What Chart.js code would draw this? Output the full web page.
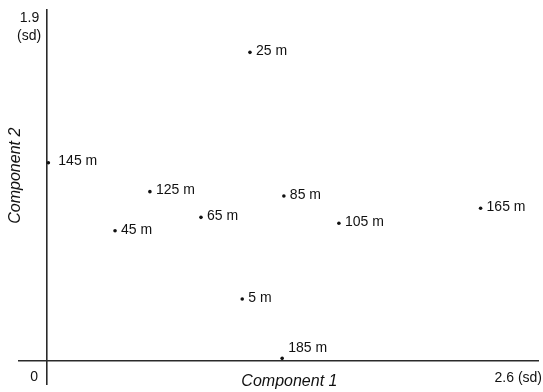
<!DOCTYPE html>
<html>
<head>
<meta charset="utf-8">
<script src="https://cdn.jsdelivr.net/npm/chart.js@4"></script>
<style>
  body { margin: 0; background: #fff; }
  #wrap { width: 543px; height: 392px; position: relative; }
</style>
</head>
<body>
<div id="wrap"><canvas id="pcaChart"></canvas></div>
<script>
// Component scores per depth sample

const depthLabels = ['5 m', '25 m', '45 m', '65 m', '85 m', '105 m', '125 m', '145 m', '165 m', '185 m'];
const component1 = [1.035, 1.076, 0.360, 0.816, 1.256, 1.548, 0.545, 0.006, 2.300, 1.247];
const component2 = [0.334, 1.666, 0.703, 0.775, 0.890, 0.743, 0.914, 1.070, 0.824, 0.014];

const xTickLabels = ['0', '2.6 (sd)'];
const yTickLabels = ['1.9', '(sd)'];

const FONT = '"Liberation Sans", Arial, Helvetica, sans-serif';
const INK = '#111';

// label placement tweaks (pixels) for a couple of crowded points
const labelOffset = {
    '145 m': [10, -2],
    '185 m': [6, -10]
};

const points = depthLabels.map(function(lbl, i) {
    return { x: component1[i], y: component2[i], label: lbl };
});

const annotatePlugin = {
    id: 'annotate',
    afterDatasetsDraw: function(chart) {
        const ctx = chart.ctx;
        const xs = chart.scales.x;
        const ys = chart.scales.y;
        const meta = chart.getDatasetMeta(0);

        ctx.save();
        ctx.fillStyle = INK;
        ctx.font = '14px ' + FONT;
        ctx.textBaseline = 'middle';
        ctx.textAlign = 'left';
        meta.data.forEach(function(pt, i) {
            const lbl = depthLabels[i];
            const off = labelOffset[lbl] || [6, -1];
            ctx.fillText(lbl, pt.x + off[0], pt.y + off[1]);
        });

        const x0 = xs.getPixelForValue(0);
        const y0 = ys.getPixelForValue(0);

        // axis end labels
        ctx.textAlign = 'center';
        ctx.fillText(xTickLabels[0], x0 - 13, y0 + 16);
        ctx.textAlign = 'right';
        ctx.fillText(xTickLabels[1], chart.width - 1, y0 + 17);
        ctx.fillText(yTickLabels[0], x0 - 8, ys.getPixelForValue(1.9) + 9);
        ctx.fillText(yTickLabels[1], x0 - 6, ys.getPixelForValue(1.9) + 27);

        // axis titles
        ctx.font = 'italic 16px ' + FONT;
        ctx.textAlign = 'center';
        ctx.fillText('Component 1', xs.getPixelForValue(1.28) + 1, y0 + 21);
        ctx.translate(16, ys.getPixelForValue(1.0));
        ctx.rotate(-Math.PI / 2);
        ctx.fillText('Component 2', 0, 0);
        ctx.restore();
    }
};

const zeroLine = function(c) {
    return c.tick.value === 0 ? '#2a2a2a' : 'rgba(0,0,0,0)';
};

new Chart(document.getElementById('pcaChart').getContext('2d'), {
    type: 'scatter',
    data: {
        datasets: [{
            data: points,
            pointRadius: 1.8,
            pointBackgroundColor: INK,
            pointBorderWidth: 0
        }]
    },
    options: {
        responsive: true,
        maintainAspectRatio: false,
        animation: false,
        layout: { padding: { left: 18, top: 9, right: 0, bottom: 7 } },
        plugins: {
            legend: { display: false },
            tooltip: { enabled: false }
        },
        scales: {
            x: {
                type: 'linear',
                min: -0.155,
                max: 2.61,
                afterBuildTicks: function(s) { s.ticks = [{ value: 0 }]; },
                ticks: { display: false },
                border: { display: false },
                grid: { color: zeroLine, lineWidth: 1.6, drawTicks: false }
            },
            y: {
                type: 'linear',
                min: -0.13,
                max: 1.9,
                afterBuildTicks: function(s) { s.ticks = [{ value: 0 }]; },
                ticks: { display: false },
                border: { display: false },
                grid: { color: zeroLine, lineWidth: 1.6, drawTicks: false }
            }
        }
    },
    plugins: [annotatePlugin]
});
</script>
</body>
</html>
